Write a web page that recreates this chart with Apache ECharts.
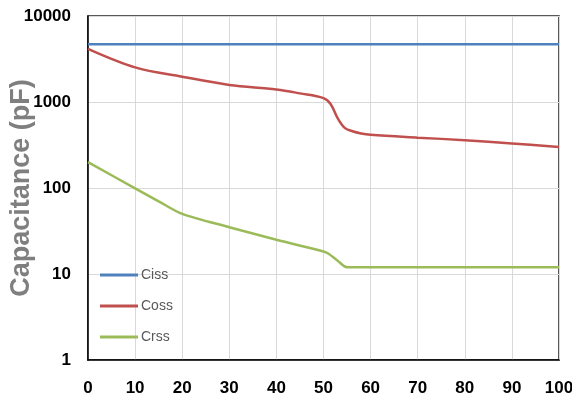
<!DOCTYPE html>
<html>
<head>
<meta charset="utf-8">
<script src="https://cdn.jsdelivr.net/npm/echarts@6/dist/echarts.min.js"></script>
<style>html,body{margin:0;padding:0;background:#fff;}#c{width:572px;height:396px;}</style>
</head>
<body>
<div id="c"></div>
<script>
var xTicks = [0,10,20,30,40,50,60,70,80,90,100];
var yTicks = [1,10,100,1000,10000];
var cissX = [0,100];
var cissY = [4700,4700];
var cossX = [0,10,20,30,40,45,50,51.5,53,54.5,56,58,60,70,80,90,100];
var cossY = [4150,2530,1970,1580,1400,1260,1110,950,650,500,460,430,415,385,360,330,300];
var crssX = [0,10,15,20,30,40,50,51,53,55,60,70,80,90,100];
var crssY = [200,99,70,50,35,25,18.3,17.3,14.3,12,12,12,12,12,12];

function pairs(xs, ys){ return xs.map(function(x,i){ return [x, ys[i]]; }); }

var chart = echarts.init(document.getElementById('c'));
chart.setOption({
  animation: false,
  grid: { left: 88, top: 16, width: 471, height: 344, outerBoundsMode: 'none', containLabel: false, show: true, borderColor: '#222', borderWidth: 1.5, backgroundColor: 'transparent' },
  legend: {
    orient: 'vertical', left: 100, top: 267, padding: 0, itemWidth: 38, itemHeight: 3, itemGap: 15,
    icon: 'rect',
    textStyle: { color: '#595959', fontSize: 14, fontFamily: 'Liberation Sans, Arial, sans-serif', lineHeight: 16, padding: [0,0,0,-2] },
    data: ['Ciss','Coss','Crss']
  },
  xAxis: {
    type: 'value', min: 0, max: 100, interval: 10,
    axisLine: { show: true, lineStyle: { color: '#000', width: 1.5 } },
    axisTick: { show: false },
    splitLine: { show: true, lineStyle: { color: '#d9d9d9', width: 1 } },
    axisLabel: { margin: 20, color: '#000', fontSize: 17, fontWeight: 'bold', fontFamily: 'Liberation Sans, Arial, sans-serif',
      formatter: function(v){ return xTicks.indexOf(v) >= 0 ? String(v) : ''; } }
  },
  yAxis: {
    type: 'log', logBase: 10, min: 1, max: 10000,
    name: 'Capacitance (pF)', nameLocation: 'middle', nameGap: 53, nameMoveOverlap: false,
    nameTextStyle: { color: '#7f7f7f', fontSize: 27, fontWeight: 'bold', fontFamily: 'Liberation Sans, Arial, sans-serif' },
    axisLine: { show: true, lineStyle: { color: '#000', width: 1.5 } },
    axisTick: { show: false },
    minorTick: { show: false },
    splitLine: { show: true, lineStyle: { color: '#d9d9d9', width: 1 } },
    axisLabel: { margin: 17, color: '#000', fontSize: 17, fontWeight: 'bold', fontFamily: 'Liberation Sans, Arial, sans-serif',
      formatter: function(v){ return yTicks.indexOf(Math.round(v)) >= 0 ? String(Math.round(v)) : ''; } }
  },
  series: [
    { name: 'Ciss', type: 'line', data: pairs(cissX, cissY), showSymbol: false, symbol: 'none', lineStyle: { color: '#4F81BD', width: 2.5 }, itemStyle: { color: '#4F81BD' } },
    { name: 'Coss', type: 'line', data: pairs(cossX, cossY), showSymbol: false, symbol: 'none', smooth: 0.35, lineStyle: { color: '#C0504D', width: 2.5 }, itemStyle: { color: '#C0504D' } },
    { name: 'Crss', type: 'line', data: pairs(crssX, crssY), showSymbol: false, symbol: 'none', smooth: 0.3, lineStyle: { color: '#9BBB59', width: 2.5 }, itemStyle: { color: '#9BBB59' } }
  ]
});
</script>
</body>
</html>
